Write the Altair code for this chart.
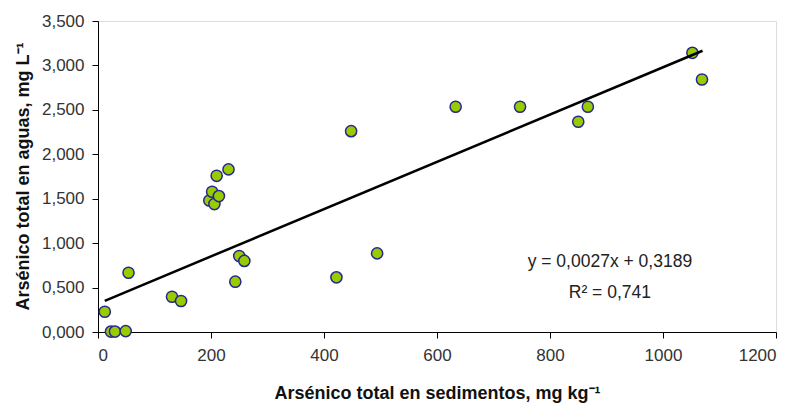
import altair as alt
import pandas as pd

# Data
sed_x = [12, 23, 30, 49, 54, 131, 147, 197, 202, 206, 210, 214, 231, 243, 250, 259,
         422, 448, 494, 633, 747, 850, 867, 1052, 1069]
agua_y = [0.228, 0.005, 0.005, 0.01, 0.667, 0.397, 0.349, 1.48, 1.578, 1.44, 1.758, 1.53, 1.83,
          0.566, 0.855, 0.80, 0.615, 2.26, 0.885, 2.535, 2.535, 2.366, 2.535, 3.142, 2.842]

trend_x = [12, 1070]
trend_y = [0.351, 3.165]

eq_lines = ["y = 0,0027x + 0,3189", "R² = 0,741"]
eq_x = [906, 906]
eq_y = [0.79, 0.44]

pts = pd.DataFrame({"x": sed_x, "y": agua_y})
trend = pd.DataFrame({"x": trend_x, "y": trend_y})
ann = pd.DataFrame({"t": eq_lines, "x": eq_x, "y": eq_y})

FONT = "Liberation Sans"

xscale = alt.Scale(domain=[0, 1200], nice=False, zero=False)
yscale = alt.Scale(domain=[0, 3.5], nice=False, zero=False)

xaxis = alt.Axis(values=[0, 200, 400, 600, 800, 1000, 1200], grid=False,
                 title="Arsénico total en sedimentos, mg kg⁻¹",
                 titleFont=FONT, titleFontSize=18, titleFontWeight="bold", titleColor="#111111",
                 titleY=52,
                 labelFont=FONT, labelFontSize=17, labelColor="#333333", labelPadding=9,
                 domainColor="#000000", domainWidth=1, tickColor="#000000", tickSize=6,
                 format="d")
yaxis = alt.Axis(values=[0, 0.5, 1, 1.5, 2, 2.5, 3, 3.5], grid=False,
                 title="Arsénico total en aguas, mg L⁻¹",
                 titleFont=FONT, titleFontSize=18, titleFontWeight="bold", titleColor="#111111",
                 titleX=-66, titleY=155,
                 labelFont=FONT, labelFontSize=17, labelColor="#333333", labelPadding=8,
                 labelExpr="replace(format(datum.value, '.3f'), '.', ',')",
                 domainColor="#000000", domainWidth=1, tickColor="#000000", tickSize=6)

line = alt.Chart(trend).mark_line(color="#000000", strokeWidth=2.5).encode(
    x=alt.X("x:Q", scale=xscale, axis=xaxis),
    y=alt.Y("y:Q", scale=yscale, axis=yaxis),
)

points = alt.Chart(pts).mark_point(filled=True, fill="#99cc00", stroke="#27288f",
                                   strokeWidth=1.5, size=125, opacity=1, shape="circle").encode(
    x=alt.X("x:Q", scale=xscale),
    y=alt.Y("y:Q", scale=yscale),
)

text = alt.Chart(ann).mark_text(font=FONT, fontSize=17.5, color="#222222", align="center",
                                baseline="middle").encode(
    x=alt.X("x:Q", scale=xscale),
    y=alt.Y("y:Q", scale=yscale),
    text="t:N",
)

chart = alt.layer(points, line, text).properties(
    width=678, height=311, autosize="none",
    padding={"left": 98, "top": 21, "right": 22, "bottom": 76},
).configure_view(stroke=None).configure(background="#ffffff")

chart.save("out.html", embed_options={"renderer": "svg", "actions": False})
